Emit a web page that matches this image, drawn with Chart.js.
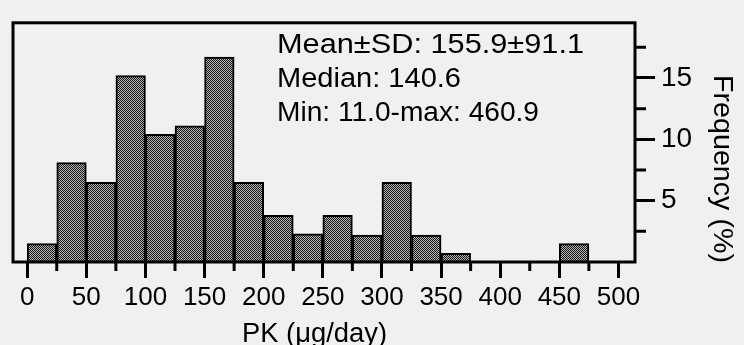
<!DOCTYPE html>
<html><head><meta charset="utf-8">
<script src="https://cdn.jsdelivr.net/npm/chart.js@4.4.0/dist/chart.umd.min.js"></script>
<style>html,body{margin:0;padding:0;background:#f0f0f0;overflow:hidden}</style>
</head><body>
<canvas id="c" width="744" height="345"></canvas>
<script>
// ---- data ----
const binCenters = [12.5,37.5,62.5,87.5,112.5,137.5,162.5,187.5,212.5,237.5,262.5,287.5,312.5,337.5,362.5,387.5,412.5,437.5,462.5,487.5];
const frequency  = [1.5,8.1,6.5,15.2,10.4,11.1,16.7,6.5,3.8,2.3,3.8,2.2,6.5,2.2,0.7,0,0,0,1.5,0];
const xMajorTicks = [0,50,100,150,200,250,300,350,400,450,500];
const xMinorTicks = [25,75,125,175,225,275,325,375,425,475];
const yMajorTicks = [5,10,15];
const yMinorTicks = [2.5,7.5,12.5,17.5];
const statsLines = ['Mean\u00B1SD: 155.9\u00B191.1','Median: 140.6','Min: 11.0-max: 460.9'];
const xTitle = 'PK (\u03BCg/day)';
const yTitle = 'Frequency (%)';

const FAMILY = '"Liberation Sans", Arial, Helvetica, sans-serif';
const canvas = document.getElementById('c');
const ctx0 = canvas.getContext('2d');

// checkerboard dither fill for bars
const pc = document.createElement('canvas'); pc.width = 2; pc.height = 2;
const pctx = pc.getContext('2d');
pctx.fillStyle = '#b4b4b4'; pctx.fillRect(0,0,2,2);
pctx.fillStyle = '#1a1a1a'; pctx.fillRect(0,0,1,1); pctx.fillRect(1,1,1,1);
const barPattern = ctx0.createPattern(pc, 'repeat');

function fitText(ctx, text, x, y, size, width) {
  ctx.font = size + 'px ' + FAMILY;
  const w = ctx.measureText(text).width;
  ctx.save();
  ctx.translate(x, y);
  ctx.scale(width / w, 1);
  ctx.textAlign = 'left';
  ctx.textBaseline = 'alphabetic';
  ctx.fillText(text, 0, 0);
  ctx.restore();
}

const decor = {
  id: 'decor',
  beforeDraw(chart) {
    const c = chart.ctx;
    c.save(); c.fillStyle = '#f0f0f0'; c.fillRect(0, 0, chart.width, chart.height); c.restore();
  },
  afterDraw(chart) {
    const c = chart.ctx, a = chart.chartArea, xs = chart.scales.x, ys = chart.scales.y;
    c.save();
    c.strokeStyle = '#000'; c.lineWidth = 3;
    c.strokeRect(a.left, a.top, a.right - a.left, a.bottom - a.top);
    c.beginPath();
    xMinorTicks.forEach(v => { const p = xs.getPixelForValue(v); c.moveTo(p, a.bottom); c.lineTo(p, a.bottom + 9); });
    yMinorTicks.forEach(v => { const p = ys.getPixelForValue(v); c.moveTo(a.right, p); c.lineTo(a.right + 11, p); });
    c.stroke();
    c.fillStyle = '#000';
    fitText(c, statsLines[0], 277, 53, 27, 307);
    fitText(c, statsLines[1], 277, 87, 27, 184);
    fitText(c, statsLines[2], 277, 121, 27, 262);
    fitText(c, xTitle, 242, 342, 27, 145);
    c.save();
    c.translate(714, 169);
    c.rotate(Math.PI / 2);
    c.font = '28px ' + FAMILY;
    const w = c.measureText(yTitle).width;
    c.scale(188 / w, 1);
    c.textBaseline = 'alphabetic';
    c.fillText(yTitle, -w / 2, 0);
    c.restore();
    c.restore();
  }
};

new Chart(canvas, {
  type: 'bar',
  data: {
    datasets: [{
      data: binCenters.map((x, i) => ({ x: x, y: frequency[i] })),
      backgroundColor: barPattern,
      borderColor: '#000',
      borderWidth: c => (c.raw && c.raw.y > 0 ? 2 : 0),
      barPercentage: 1,
      categoryPercentage: 1
    }]
  },
  options: {
    responsive: false,
    animation: false,
    devicePixelRatio: 1,
    layout: { padding: { left: 13, top: 14, right: 0, bottom: 0 } },
    plugins: { legend: { display: false }, tooltip: { enabled: false } },
    scales: {
      x: {
        type: 'linear', min: -12, max: 514, offset: false,
        grid: { offset: false, drawOnChartArea: false, drawTicks: true, tickLength: 16, tickWidth: 3,
          tickColor: c => (xMajorTicks.includes(c.tick.value) ? '#000' : 'rgba(0,0,0,0)') },
        border: { display: false },
        ticks: { stepSize: 25, includeBounds: false, autoSkip: false, maxRotation: 0, minRotation: 0,
          padding: 4, color: '#000', font: { family: FAMILY, size: 26 },
          callback: v => (xMajorTicks.includes(v) ? String(v) : '') },
        afterFit: s => { s.height = 83; }
      },
      y: {
        position: 'right', min: 0, max: 19.5,
        grid: { drawOnChartArea: false, drawTicks: true, tickLength: 20, tickWidth: 3,
          tickColor: c => (yMajorTicks.includes(c.tick.value) ? '#000' : 'rgba(0,0,0,0)') },
        border: { display: false },
        ticks: { stepSize: 2.5, includeBounds: false, autoSkip: false, padding: 6, color: '#000',
          font: { family: FAMILY, size: 28 },
          callback: v => (yMajorTicks.includes(v) ? String(v) : '') },
        afterFit: s => { s.width = 109; }
      }
    }
  },
  plugins: [decor]
});
</script>
</body></html>
